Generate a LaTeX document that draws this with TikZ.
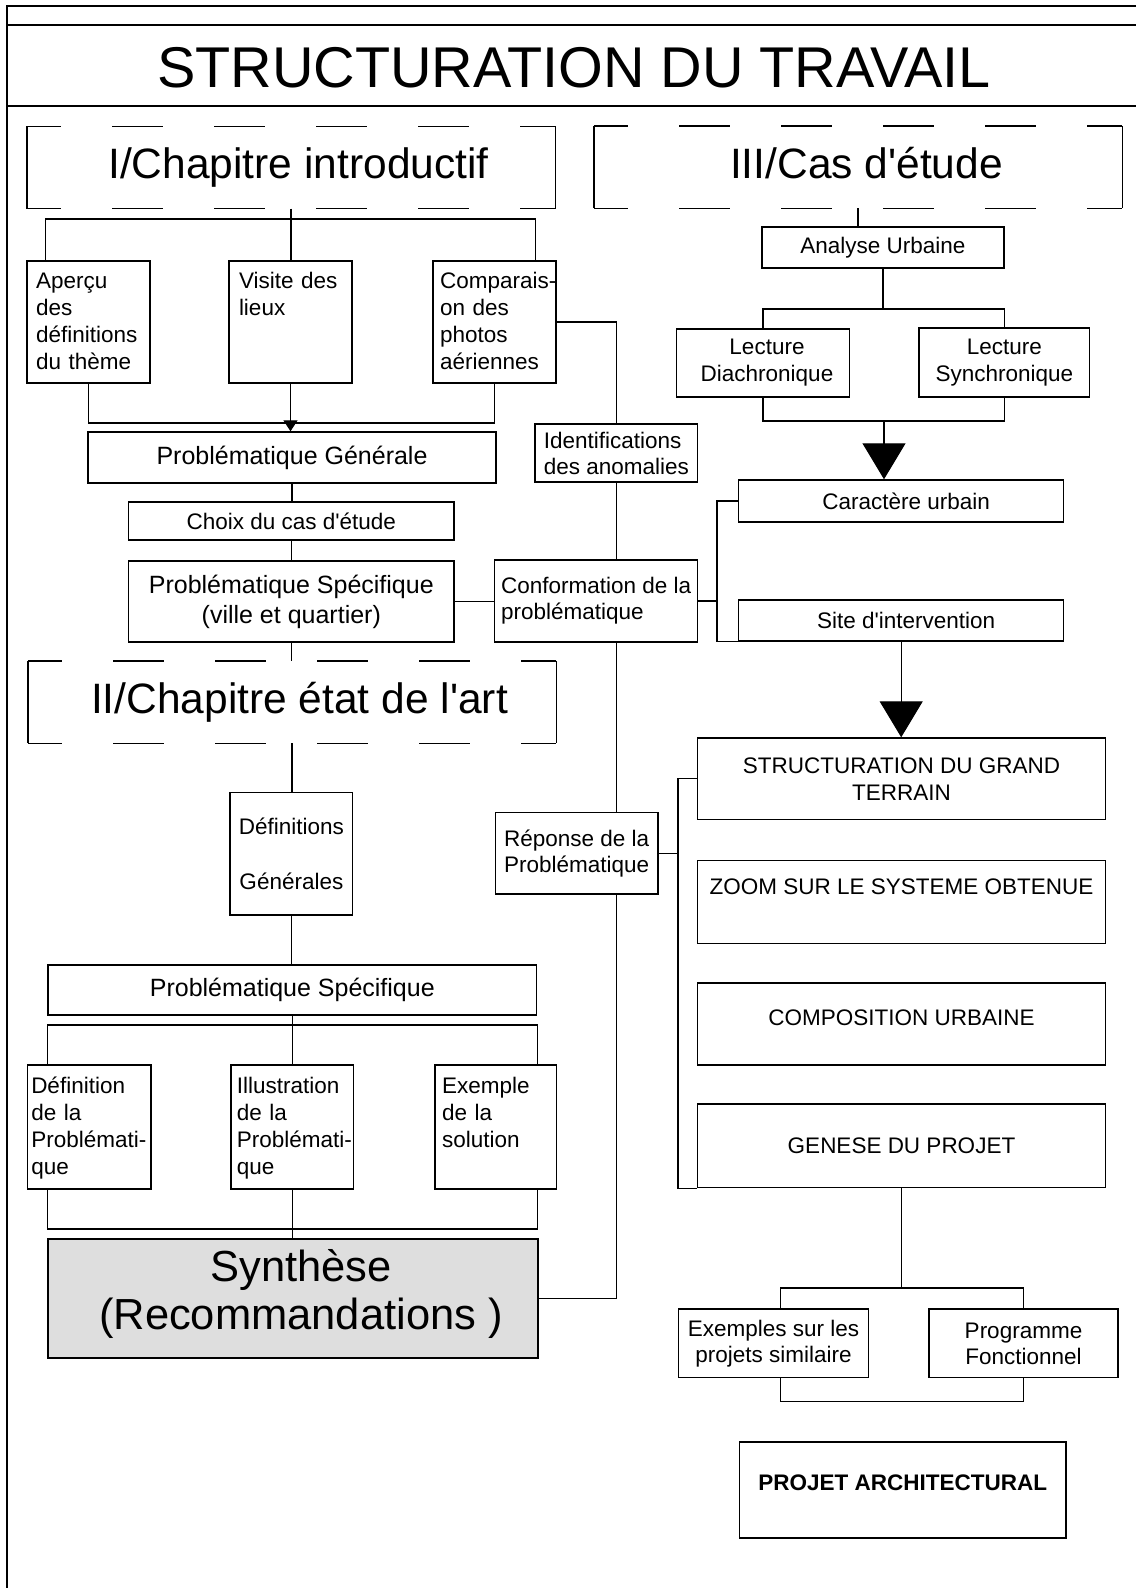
\documentclass[tikz,border=0pt]{standalone}
\usepackage{fontspec}
\newfontfamily\arialish{Liberation Sans}
\newcommand{\txtsize}[2]{\arialish\fontsize{#1}{#2}\selectfont}
\usetikzlibrary{arrows.meta}
\hyphenpenalty=10000
\exhyphenpenalty=10000

\begin{document}
\begin{tikzpicture}[x=1pt, y=-1pt,
    box/.style={draw, line width=1.4pt, inner sep=0pt, align=center, font=\txtsize{22.5}{27}},
    sidebox/.style={draw, line width=1.4pt, inner sep=0pt, align=left, font=\txtsize{22.5}{26}},
    topbox/.style={draw, line width=1.4pt, inner ysep=0pt, align=left, font=\txtsize{22.5}{27.3},
        execute at begin node={\txtsize{22.5}{27.3}}},
    chap/.style={inner sep=0pt, minimum width=528pt, minimum height=82pt,
        text height=30pt, text depth=8pt, font=\txtsize{42.5}{48}},
    link/.style={line width=1.1pt},
    boxline/.style={line width=1.4pt},
    dashedline/.style={line width=1.4pt, dash pattern=on 51pt off 51pt, dash phase=16.5pt},
    pageline/.style={line width=1.8pt},
    smalltip/.style={-{Triangle[length=11pt,width=14pt]}},
    bigtip/.style={-{Triangle[length=36pt,width=43pt]}}]
    \useasboundingbox (0,0) rectangle (1136,1588);

    % page frame and title
    \draw[pageline] (1136,6) -- (7,6) -- (7,1588);
    \draw[pageline] (7,25) -- (1136,25);
    \draw[pageline] (7,106) -- (1136,106);
    \node[font=\txtsize{57.5}{60}] (title) at (574,68) {STRUCTURATION DU TRAVAIL};

    % chapters
    \node[chap] (chap1) at (291,167.5) {\hspace*{15pt}I/Chapitre introductif};
    \node[chap] (chap3) at (858,167) {\hspace*{17pt}III/Cas d'étude};
    \node[chap] (chap2) at (292,702) {\hspace*{15pt}II/Chapitre état de l'art};
    \draw[boxline] (chap1.north west) -- (chap1.south west) (chap1.north east) -- (chap1.south east);
    \draw[dashedline] (chap1.north west) -- (chap1.north east) (chap1.south west) -- (chap1.south east);
    \draw[boxline] (chap3.north west) -- (chap3.south west) (chap3.north east) -- (chap3.south east);
    \draw[dashedline] (chap3.north west) -- (chap3.north east) (chap3.south west) -- (chap3.south east);
    \draw[boxline] (chap2.north west) -- (chap2.south west) (chap2.north east) -- (chap2.south east);
    \draw[dashedline] (chap2.north west) -- (chap2.north east) (chap2.south west) -- (chap2.south east);

    % chapitre introductif
    \node[topbox, inner xsep=9pt, text width=105pt, text height=27pt, text depth=95pt] (aper) at (88.5,322) {Aperçu\\des\\définitions\\du thème};
    \node[topbox, inner xsep=10pt, text width=103pt, text height=27pt, text depth=95pt] (visite) at (290.5,322) {Visite des\\lieux};
    \node[topbox, inner xsep=7pt, text width=109pt, text height=27pt, text depth=95pt] (comp) at (494.5,322) {Comparais-\\on des\\photos\\aériennes};
    \node[box, minimum width=408pt, minimum height=51pt, font=\txtsize{25}{30}] (probgen) at (292,457.5) {Problématique Générale};
    \node[sidebox, minimum width=162.6pt, minimum height=58pt] (ident) at (616.3,453) {Identifications\\des anomalies};
    \node[box, minimum width=325.4pt, minimum height=38pt] (choix) at (291.3,521) {Choix du cas d'étude};
    \node[box, minimum width=325.4pt, minimum height=81pt, font=\txtsize{25}{30}] (probspec) at (291.3,601.5) {Problématique Spécifique\\(ville et quartier)};
    \node[sidebox, minimum width=203pt, minimum height=82pt] (conf) at (596.1,601) {Conformation de la\\problématique};

    % cas d'etude
    \node[box, minimum width=242pt, minimum height=41pt] (ana) at (883,247.5) {Analyse Urbaine};
    \node[box, minimum width=173pt, minimum height=68pt] (diach) at (763,363) {\hspace*{8pt}Lecture\\\hspace*{8pt}Diachronique};
    \node[box, minimum width=170.6pt, minimum height=69pt] (synch) at (1004.3,362.5) {Lecture\\Synchronique};
    \node[box, minimum width=325pt, minimum height=42pt] (car) at (901.2,501) {\hspace*{10pt}Caractère urbain};
    \node[box, minimum width=325pt, minimum height=41pt] (site) at (901.2,620.5) {\hspace*{10pt}Site d'intervention};
    \node[box, minimum width=408pt, minimum height=81.6pt] (struct) at (901.5,778.8) {STRUCTURATION DU GRAND\\TERRAIN};
    \node[box, minimum width=408pt, minimum height=83pt, text depth=31pt] (zoom) at (901.5,902.2) {ZOOM SUR LE SYSTEME OBTENUE};
    \node[box, minimum width=408pt, minimum height=82pt, text depth=12pt] (compo) at (901.5,1024) {COMPOSITION URBAINE};
    \node[box, minimum width=408pt, minimum height=83.5pt] (genese) at (901.5,1145.8) {GENESE DU PROJET};
    \node[box, minimum width=189.8pt, minimum height=68.7pt, font=\txtsize{22.5}{26}] (ex) at (773.5,1343.4) {Exemples sur les\\projets similaire};
    \node[box, minimum width=189pt, minimum height=68.7pt, font=\txtsize{22.5}{26}] (prog) at (1023.5,1343.4) {Programme\\Fonctionnel};
    \node[box, minimum width=326.5pt, minimum height=96.3pt, text depth=14pt, font=\txtsize{22.5}{27}\bfseries] (projet) at (902.8,1490) {PROJET ARCHITECTURAL};
    \node[sidebox, minimum width=162.3pt, minimum height=81.5pt] (rep) at (576.7,853.3) {Réponse de la\\Problématique};

    % etat de l'art
    \node[box, minimum width=122.7pt, minimum height=122.3pt, font=\txtsize{22.5}{27.5}] (def) at (291.4,853.9) {Définitions\\~\\Générales};
    \node[box, minimum width=488.6pt, minimum height=50pt, font=\txtsize{25}{30}] (probspec2) at (292.3,990) {Problématique Spécifique};
    \node[topbox, inner xsep=3.5pt, text width=116.3pt, text height=28pt, text depth=96pt] (defi) at (89.4,1127) {Définition\\de la\\Problémati-\\que};
    \node[topbox, inner xsep=6pt, text width=110.8pt, text height=28pt, text depth=96pt] (illu) at (292.2,1127) {Illustration\\de la\\Problémati-\\que};
    \node[topbox, inner xsep=7pt, text width=107.7pt, text height=28pt, text depth=96pt] (exem) at (495.9,1127) {Exemple\\de la\\solution};
    \node[box, fill=black!13, minimum width=490pt, minimum height=119pt, text depth=19pt, font=\txtsize{43.5}{48}] (synth) at (293,1298.5) {\hspace*{16pt}Synthèse\\\hspace*{16pt}(Recommandations )};

    % links, left column
    \coordinate (bus1) at (290.5,219);
    \coordinate (bus2) at (290.5,423);
    \draw[link] (chap1.south) -- (chap1.south |- visite.north);
    \draw[link] ([xshift=19pt]aper.north west) |- (bus1) -| ([xshift=-21pt]comp.north east);
    \draw[link] (aper.south) |- (bus2) -| (comp.south);
    \draw[link, smalltip] (visite.south) -- (visite.south |- probgen.north);
    \draw[link] (probgen.south) -- (probgen.south |- choix.north);
    \draw[link] (choix.south) -- (choix.south |- probspec.north);
    \draw[link] (probspec.south) -- (probspec.south |- chap2.north);
    \draw[link] (chap2.south) -- (chap2.south |- def.north);
    \draw[link] (def.south) -- (def.south |- probspec2.north);
    \coordinate (bus7) at (292.3,1025);
    \coordinate (bus8) at (292.3,1229);
    \draw[link] (probspec2.south) -- (bus7);
    \draw[link] ([xshift=20pt]defi.north west) |- (bus7) -| ([xshift=-20pt]exem.north east);
    \draw[link] (bus7) -- (bus7 |- illu.north);
    \draw[link] ([xshift=20pt]defi.south west) |- (bus8) -| ([xshift=-20pt]exem.south east);
    \draw[link] (illu.south) -- (illu.south |- synth.north);

    % links, middle column
    \draw[link] (probspec.east) -- (probspec.east -| conf.west);
    \draw[link] (comp.east) -| (ident.north);
    \draw[link] (ident.south) -- (ident.south |- conf.north);
    \draw[link] (ident.south |- conf.south) -- (ident.south |- rep.north);
    \draw[link] (ident.south |- rep.south) |- (synth.east);
    \coordinate (cbus) at (717,601);
    \draw[link] (conf.east) -- (cbus);
    \draw[link] (car.west) -| (cbus) |- (site.south west);
    \coordinate (rbus) at (678,853.3);
    \draw[link] (rep.east) -- (rbus);
    \draw[link] (struct.west) -| (rbus) |- (genese.south west);

    % links, right column
    \coordinate (bus3) at (883,309);
    \coordinate (bus4) at (884,421);
    \draw[link] (chap3.south) -- (chap3.south |- ana.north);
    \draw[link] (ana.south) -- (bus3);
    \draw[link] (diach.north) |- (bus3) -| (synch.north);
    \draw[link] (diach.south) |- (bus4) -| (synch.south);
    \draw[link, bigtip] (bus4) -- (bus4 |- car.north);
    \draw[link, bigtip] (site.south) -- (site.south |- struct.north);
    \coordinate (bus5) at (901.5,1288);
    \coordinate (bus6) at (901.5,1401.7);
    \draw[link] (genese.south) -- (bus5);
    \draw[link] ([xshift=7pt]ex.north) |- (bus5) -| (prog.north);
    \draw[link] ([xshift=7pt]ex.south) |- (bus6) -| (prog.south);
\end{tikzpicture}
\end{document}
